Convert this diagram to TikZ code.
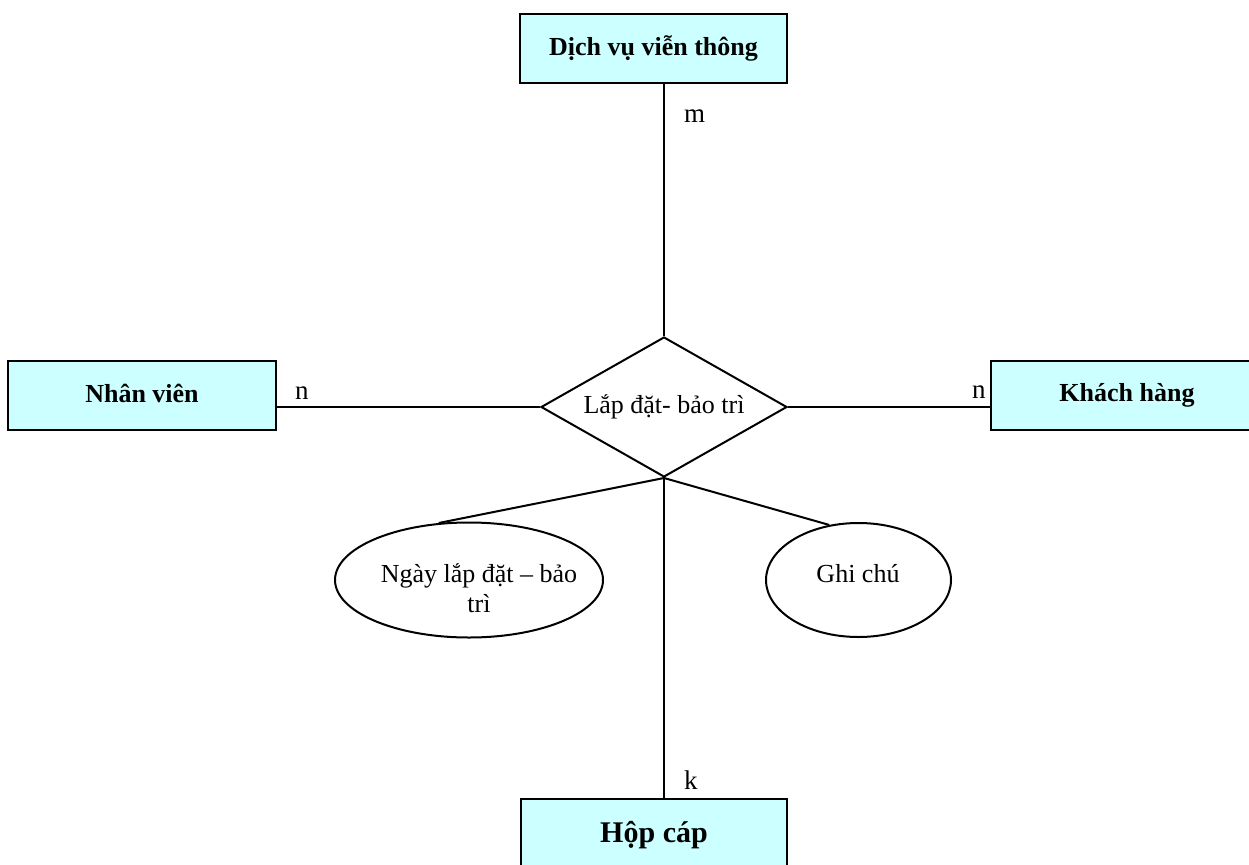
\documentclass[tikz,border=0pt]{standalone}
\usepackage{fontspec}
\setmainfont{Liberation Serif}
\usetikzlibrary{shapes.geometric}
\definecolor{entfill}{HTML}{CCFFFF}
\begin{document}
\begin{tikzpicture}[x=1pt,y=-1pt,line width=2pt,
  entity/.style={draw,fill=entfill,rectangle,inner sep=0pt,minimum height=69pt,
    font=\fontsize{26}{30}\selectfont\bfseries},
  relation/.style={draw,diamond,inner sep=0pt,aspect=1.757,
    minimum width=246pt,minimum height=140pt,font=\fontsize{26}{30}\selectfont},
  attr/.style={draw,ellipse,inner sep=0pt},
  attrtext/.style={align=center,font=\fontsize{26}{29.5}\selectfont},
  card/.style={anchor=base west,inner sep=0pt,font=\fontsize{27}{30}\selectfont}]
\useasboundingbox (0,0) rectangle (1249,864);
\clip (0,0) rectangle (1249,864);

% entities
\node[entity,minimum width=267pt] (dv) at (653.5,48.5) {\raisebox{3pt}{Dịch vụ viễn thông}};
\node[entity,minimum width=268pt] (nv) at (142,395.5) {\raisebox{4pt}{Nhân viên}};
\node[entity,minimum width=272pt] (kh) at (1127,395.5) {\raisebox{4pt}{Khách hàng}};
\node[entity,minimum width=266pt,minimum height=72pt,
      font=\fontsize{30}{34}\selectfont\bfseries] (hc) at (654,835) {\raisebox{6pt}{Hộp cáp}};

% relationship
\node[relation] (ld) at (664,407) {\raisebox{-3pt}{Lắp đặt- bảo trì}};

% attributes
\node[attr,minimum width=268pt,minimum height=115pt] (e1) at (469,580) {};
\node[attrtext] (t1) at (479,588) {Ngày lắp đặt – bảo\\trì};
\node[attr,minimum width=185pt,minimum height=114pt] (e2) at (858.5,580) {};
\node[attrtext] (t2) at (858,574) {Ghi chú};

% connectors
\draw (ld.north) -- (ld.north |- dv.south);
\draw (ld.west) -- (ld.west -| nv.east);
\draw (ld.east) -- (ld.east -| kh.west);
\draw (ld.south) -- (ld.south |- hc.north);
\draw (ld.south) -- (e1.118);
\draw (ld.south) -- (e2.118);

% cardinalities
\node[card] (cm) at (683,122) {m};
\node[card] (cn1) at (294,399) {n};
\node[card] (cn2) at (971,398) {n};
\node[card] (ck) at (683,789) {k};
\end{tikzpicture}
\end{document}
